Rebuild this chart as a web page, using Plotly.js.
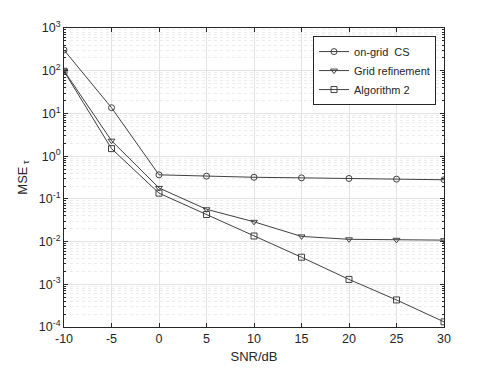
<!DOCTYPE html>
<html>
<head>
<meta charset="utf-8">
<script src="https://cdn.plot.ly/plotly-3.0.1.min.js"></script>
<style>
  html, body { margin: 0; padding: 0; background: #fff; }
  #chart { width: 491px; height: 368px; }
</style>
</head>
<body>
<div id="chart"></div>
<script>
// ── Data ──────────────────────────────────────────────────────────────────
const snr = [-10, -5, 0, 5, 10, 15, 20, 25, 30];
const onGridCS = [305, 13.6, 0.365, 0.34, 0.32, 0.31, 0.30, 0.29, 0.28];
const gridRefinement = [100, 2.3, 0.18, 0.057, 0.029, 0.0132, 0.0113, 0.011, 0.0108];
const algorithm2 = [97, 1.5, 0.136, 0.043, 0.0135, 0.0043, 0.0013, 0.00043, 0.000132];

const yTickVals = [1e-4, 1e-3, 1e-2, 1e-1, 1, 10, 100, 1000];
const yTickText = ['10<sup>-4</sup>', '10<sup>-3</sup>', '10<sup>-2</sup>', '10<sup>-1</sup>',
  '10<sup>0</sup>', '10<sup>1</sup>', '10<sup>2</sup>', '10<sup>3</sup>'];

const LINE = '#404040';
const FONT = 'Liberation Sans, Arial, sans-serif';

function series(y, name, symbol) {
  return {
    x: snr, y: y, name: name,
    type: 'scatter', mode: 'lines+markers',
    line: { color: LINE, width: 1 },
    marker: { symbol: symbol, size: 6, color: LINE, line: { color: LINE, width: 1 } },
  };
}

const traces = [
  series(onGridCS, 'on-grid  CS', 'circle-open'),
  series(gridRefinement, 'Grid refinement', 'triangle-down-open'),
  series(algorithm2, 'Algorithm 2', 'square-open'),
];

const AXIS = {
  showline: true, linecolor: '#262626', linewidth: 1, mirror: 'ticks',
  ticks: 'inside', ticklen: 4, tickcolor: '#262626',
  showgrid: true, gridcolor: '#e3e3e3', gridwidth: 1,
  zeroline: false,
  tickfont: { family: FONT, size: 12.5, color: '#262626' },
};

const layout = {
  width: 491, height: 368,
  margin: { l: 64, r: 47, t: 28, b: 41 },
  paper_bgcolor: '#fff', plot_bgcolor: '#fff',
  font: { family: FONT, color: '#262626' },
  showlegend: true,
  legend: {
    x: 0.979, xanchor: 'right', y: 0.973, yanchor: 'top',
    bgcolor: '#fff', bordercolor: '#262626', borderwidth: 1,
    font: { family: FONT, size: 11, color: '#262626' },
    tracegroupgap: 0, itemwidth: 30,
  },
  xaxis: {
    ...AXIS,
    range: [-10, 30], tickvals: snr, ticktext: snr.map(String),
    title: { text: 'SNR/dB', font: { family: FONT, size: 13, color: '#262626' }, standoff: 6 },
  },
  yaxis: {
    ...AXIS,
    type: 'log', range: [-4, 3],
    tickvals: yTickVals, ticktext: yTickText,
    minor: { dtick: 'D1', ticks: 'inside', ticklen: 2, tickcolor: '#262626', showgrid: true, gridcolor: '#ececec', griddash: 'dot' },
    title: { text: 'MSE<sub> τ</sub>', font: { family: FONT, size: 13, color: '#262626' }, standoff: 8 },
  },
};

Plotly.newPlot('chart', traces, layout, { staticPlot: true, displayModeBar: false });
</script>
</body>
</html>
